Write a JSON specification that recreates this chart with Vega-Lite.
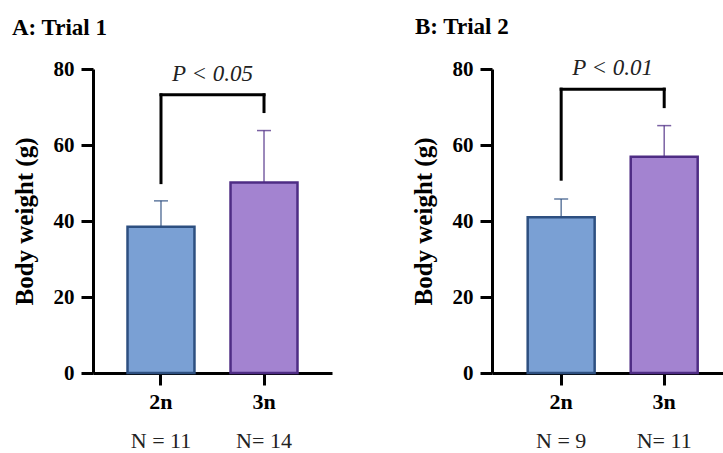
{
  "$schema": "https://vega.github.io/schema/vega-lite/v6.json",
  "background": "white",
  "padding": {"left": 12, "top": 16, "right": 0, "bottom": 0},
  "spacing": 79,
  "datasets": {
    "bars": [
      {"panel": "A", "group": "2n", "mean": 38.5, "upper": 45.3, "n": "N = 11"},
      {"panel": "A", "group": "3n", "mean": 50.1, "upper": 63.8, "n": "N= 14"},
      {"panel": "B", "group": "2n", "mean": 41.0, "upper": 45.8, "n": "N = 9"},
      {"panel": "B", "group": "3n", "mean": 56.9, "upper": 65.1, "n": "N= 11"}
    ],
    "brackets": [
      {"panel": "A", "a": "2n", "b": "3n", "top": 73.2, "left": 50.1, "right": 68.8, "p": "P < 0.05"},
      {"panel": "B", "a": "2n", "b": "3n", "top": 74.7, "left": 51.0, "right": 70.1, "p": "P < 0.01"}
    ]
  },
  "config": {
    "view": {"stroke": null},
    "font": "Liberation Serif",
    "axis": {
      "domainColor": "black", "domainWidth": 3, "tickColor": "black", "tickWidth": 3, "tickSize": 12,
      "labelFont": "Liberation Serif", "labelFontWeight": "bold", "labelColor": "black",
      "titleFont": "Liberation Serif", "titleFontWeight": "bold", "titleColor": "black", "grid": false
    },
    "title": {"font": "Liberation Serif", "fontWeight": "bold", "fontSize": 23, "color": "black", "anchor": "start", "frame": "bounds", "offset": 18}
  },
  "hconcat": [
    {
      "title": {"text": "A: Trial 1", "dx": 0},
      "width": 239,
      "height": 304,
      "encoding": {
        "x": {"type": "nominal", "scale": {"domain": ["2n", "3n"], "paddingInner": 0.35, "paddingOuter": 0.335},
              "axis": {"title": null, "labelAngle": 0, "labelFontSize": 22, "labelPadding": 6}}
      },
      "layer": [
        {
          "data": {"name": "bars"},
          "transform": [{"filter": "datum.panel == 'A'"}],
          "mark": {"type": "bar", "strokeWidth": 2.5},
          "encoding": {
            "x": {"field": "group", "type": "nominal"},
            "y": {"field": "mean", "type": "quantitative", "scale": {"domain": [0, 80], "nice": false},
                  "axis": {"title": "Body weight (g)", "values": [0, 20, 40, 60, 80], "labelFontSize": 21, "labelPadding": 7, "titleFontSize": 25, "titlePadding": 16}},
            "fill": {"field": "group", "type": "nominal", "scale": {"domain": ["2n", "3n"], "range": ["#7aa0d4", "#a383d0"]}, "legend": null},
            "stroke": {"field": "group", "type": "nominal", "scale": {"domain": ["2n", "3n"], "range": ["#2d4f80", "#4e2c84"]}, "legend": null}
          }
        },
        {
          "data": {"name": "bars"},
          "transform": [{"filter": "datum.panel == 'A'"}],
          "mark": {"type": "rule", "strokeWidth": 1.5, "opacity": 0.75},
          "encoding": {
            "x": {"field": "group", "type": "nominal"},
            "y": {"field": "mean", "type": "quantitative"},
            "y2": {"field": "upper"},
            "stroke": {"field": "group", "type": "nominal", "legend": null}
          }
        },
        {
          "data": {"name": "bars"},
          "transform": [{"filter": "datum.panel == 'A'"}],
          "mark": {"type": "tick", "size": 14, "thickness": 1.5, "opacity": 0.75},
          "encoding": {
            "x": {"field": "group", "type": "nominal"},
            "y": {"field": "upper", "type": "quantitative"},
            "color": {"field": "group", "type": "nominal", "scale": {"domain": ["2n", "3n"], "range": ["#2d4f80", "#4e2c84"]}, "legend": null}
          }
        },
        {
          "data": {"name": "bars"},
          "transform": [{"filter": "datum.panel == 'A'"}],
          "mark": {"type": "text", "fontSize": 22, "font": "Liberation Serif", "baseline": "alphabetic", "dy": 75, "color": "#222"},
          "encoding": {
            "x": {"field": "group", "type": "nominal"},
            "y": {"datum": 0, "type": "quantitative"},
            "text": {"field": "n"}
          }
        },
        {
          "data": {"name": "brackets"},
          "transform": [{"filter": "datum.panel == 'A'"}],
          "mark": {"type": "rule", "strokeWidth": 3, "color": "black", "strokeCap": "square"},
          "encoding": {
            "x": {"field": "a", "type": "nominal"},
            "x2": {"field": "b"},
            "y": {"field": "top", "type": "quantitative"}
          }
        },
        {
          "data": {"name": "brackets"},
          "transform": [{"filter": "datum.panel == 'A'"}],
          "mark": {"type": "rule", "strokeWidth": 3, "color": "black", "strokeCap": "square"},
          "encoding": {
            "x": {"field": "a", "type": "nominal"},
            "y": {"field": "left", "type": "quantitative"},
            "y2": {"field": "top"}
          }
        },
        {
          "data": {"name": "brackets"},
          "transform": [{"filter": "datum.panel == 'A'"}],
          "mark": {"type": "rule", "strokeWidth": 3, "color": "black", "strokeCap": "square"},
          "encoding": {
            "x": {"field": "b", "type": "nominal"},
            "y": {"field": "right", "type": "quantitative"},
            "y2": {"field": "top"}
          }
        },
        {
          "data": {"name": "brackets"},
          "transform": [{"filter": "datum.panel == 'A'"}],
          "mark": {"type": "text", "fontSize": 23, "font": "Liberation Serif", "fontStyle": "italic", "baseline": "alphabetic", "dy": -14, "color": "#222"},
          "encoding": {
            "x": {"field": "a", "type": "nominal", "bandPosition": 1.269},
            "y": {"field": "top", "type": "quantitative"},
            "text": {"field": "p"}
          }
        }
      ]
    },
    {
      "title": {"text": "B: Trial 2", "dx": 4},
      "width": 231,
      "height": 304,
      "encoding": {
        "x": {"type": "nominal", "scale": {"domain": ["2n", "3n"], "paddingInner": 0.35, "paddingOuter": 0.296, "align": 0.585},
              "axis": {"title": null, "labelAngle": 0, "labelFontSize": 22, "labelPadding": 6}}
      },
      "layer": [
        {
          "data": {"name": "bars"},
          "transform": [{"filter": "datum.panel == 'B'"}],
          "mark": {"type": "bar", "strokeWidth": 2.5},
          "encoding": {
            "x": {"field": "group", "type": "nominal"},
            "y": {"field": "mean", "type": "quantitative", "scale": {"domain": [0, 80], "nice": false},
                  "axis": {"title": "Body weight (g)", "values": [0, 20, 40, 60, 80], "labelFontSize": 21, "labelPadding": 7, "titleFontSize": 25, "titlePadding": 16}},
            "fill": {"field": "group", "type": "nominal", "scale": {"domain": ["2n", "3n"], "range": ["#7aa0d4", "#a383d0"]}, "legend": null},
            "stroke": {"field": "group", "type": "nominal", "scale": {"domain": ["2n", "3n"], "range": ["#2d4f80", "#4e2c84"]}, "legend": null}
          }
        },
        {
          "data": {"name": "bars"},
          "transform": [{"filter": "datum.panel == 'B'"}],
          "mark": {"type": "rule", "strokeWidth": 1.5, "opacity": 0.75},
          "encoding": {
            "x": {"field": "group", "type": "nominal"},
            "y": {"field": "mean", "type": "quantitative"},
            "y2": {"field": "upper"},
            "stroke": {"field": "group", "type": "nominal", "legend": null}
          }
        },
        {
          "data": {"name": "bars"},
          "transform": [{"filter": "datum.panel == 'B'"}],
          "mark": {"type": "tick", "size": 14, "thickness": 1.5, "opacity": 0.75},
          "encoding": {
            "x": {"field": "group", "type": "nominal"},
            "y": {"field": "upper", "type": "quantitative"},
            "color": {"field": "group", "type": "nominal", "scale": {"domain": ["2n", "3n"], "range": ["#2d4f80", "#4e2c84"]}, "legend": null}
          }
        },
        {
          "data": {"name": "bars"},
          "transform": [{"filter": "datum.panel == 'B'"}],
          "mark": {"type": "text", "fontSize": 22, "font": "Liberation Serif", "baseline": "alphabetic", "dy": 75, "color": "#222"},
          "encoding": {
            "x": {"field": "group", "type": "nominal"},
            "y": {"datum": 0, "type": "quantitative"},
            "text": {"field": "n"}
          }
        },
        {
          "data": {"name": "brackets"},
          "transform": [{"filter": "datum.panel == 'B'"}],
          "mark": {"type": "rule", "strokeWidth": 3, "color": "black", "strokeCap": "square"},
          "encoding": {
            "x": {"field": "a", "type": "nominal"},
            "x2": {"field": "b"},
            "y": {"field": "top", "type": "quantitative"}
          }
        },
        {
          "data": {"name": "brackets"},
          "transform": [{"filter": "datum.panel == 'B'"}],
          "mark": {"type": "rule", "strokeWidth": 3, "color": "black", "strokeCap": "square"},
          "encoding": {
            "x": {"field": "a", "type": "nominal"},
            "y": {"field": "left", "type": "quantitative"},
            "y2": {"field": "top"}
          }
        },
        {
          "data": {"name": "brackets"},
          "transform": [{"filter": "datum.panel == 'B'"}],
          "mark": {"type": "rule", "strokeWidth": 3, "color": "black", "strokeCap": "square"},
          "encoding": {
            "x": {"field": "b", "type": "nominal"},
            "y": {"field": "right", "type": "quantitative"},
            "y2": {"field": "top"}
          }
        },
        {
          "data": {"name": "brackets"},
          "transform": [{"filter": "datum.panel == 'B'"}],
          "mark": {"type": "text", "fontSize": 23, "font": "Liberation Serif", "fontStyle": "italic", "baseline": "alphabetic", "dy": -14, "color": "#222"},
          "encoding": {
            "x": {"field": "a", "type": "nominal", "bandPosition": 1.269},
            "y": {"field": "top", "type": "quantitative"},
            "text": {"field": "p"}
          }
        }
      ]
    }
  ]
}
